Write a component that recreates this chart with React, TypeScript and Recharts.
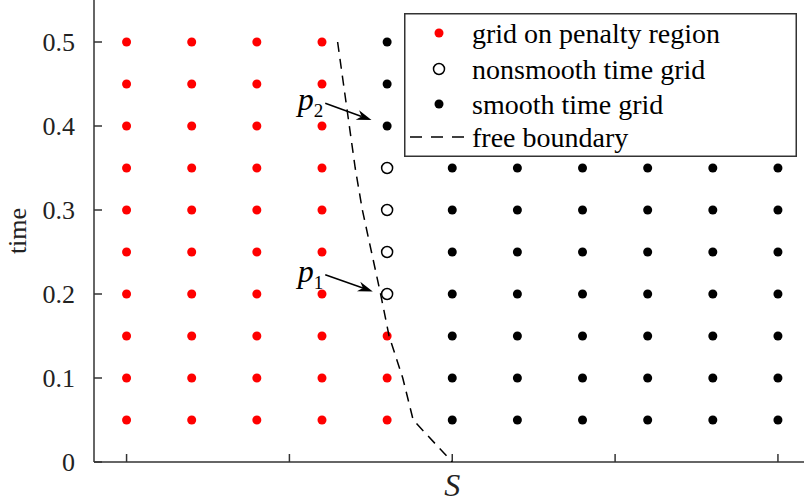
import { ScatterChart, Scatter, XAxis, YAxis, ReferenceLine, Legend } from "recharts";

// grid of the scheme: asset columns (index) x time rows
const gridTimes = [0.05, 0.1, 0.15, 0.2, 0.25, 0.3, 0.35, 0.4, 0.45, 0.5];
const penaltyCols = [0, 1, 2, 3];
const edgeCol = 4;
const edgePenaltyTimes = [0.05, 0.1, 0.15];
const edgeNonsmoothTimes = [0.2, 0.25, 0.3, 0.35];
const edgeSmoothTimes = [0.4, 0.45, 0.5];
const smoothCols = [5, 6, 7, 8, 9, 10];

// free boundary S_f(t)
const boundaryT = [0.5, 0.45, 0.4, 0.35, 0.3, 0.25, 0.2, 0.15, 0.1, 0.05, 0];
const boundaryS = [3.24, 3.33, 3.42, 3.51, 3.62, 3.76, 3.9, 4.03, 4.24, 4.4, 5.0];

const xTicks = [0, 2.5, 5, 7.5, 10];
const xTickLabels = ["", "", "S", "", ""];
const yTicks = [0, 0.1, 0.2, 0.3, 0.4, 0.5];
const yTickLabels = ["0", "0.1", "0.2", "0.3", "0.4", "0.5"];

const legendLabels = [
    "grid on penalty region",
    "nonsmooth time grid",
    "smooth time grid",
    "free boundary",
];

// p_1, p_2 annotations
const arrowSubs = ["2", "1"];
const arrowFromX = [3.05, 3.05];
const arrowFromT = [0.427, 0.223];
const arrowToX = [3.76, 3.78];
const arrowToT = [0.407, 0.203];

const FONT = "'Liberation Serif', 'Times New Roman', Times, serif";
const AXIS = "#333";

const penaltyData = [
    ...penaltyCols.flatMap((c) => gridTimes.map((t) => ({ x: c, t }))),
    ...edgePenaltyTimes.map((t) => ({ x: edgeCol, t })),
];
const nonsmoothData = edgeNonsmoothTimes.map((t) => ({ x: edgeCol, t }));
const smoothData = [
    ...edgeSmoothTimes.map((t) => ({ x: edgeCol, t })),
    ...smoothCols.flatMap((c) => gridTimes.map((t) => ({ x: c, t }))),
];
const boundaryData = boundaryT.map((t, i) => ({ x: boundaryS[i], t }));

const RedDot = (p: any) => <circle cx={p.cx} cy={p.cy} r={4.5} fill="#ff0000" />;
const BlackDot = (p: any) => <circle cx={p.cx} cy={p.cy} r={4.5} fill="#000" />;
const OpenDot = (p: any) => (
    <circle cx={p.cx} cy={p.cy} r={5.5} fill="#fff" stroke="#000" strokeWidth={1.5} />
);

function Arrow(p: any) {
    const { x1, y1, x2, y2, sub } = p;
    const a = Math.atan2(y2 - y1, x2 - x1);
    const len = 15;
    const hw = 5;
    const bx = x2 - len * Math.cos(a);
    const by = y2 - len * Math.sin(a);
    const nx = x2 - len * 0.7 * Math.cos(a);
    const ny = y2 - len * 0.7 * Math.sin(a);
    const px = -Math.sin(a) * hw;
    const py = Math.cos(a) * hw;
    return (
        <g>
            <line x1={x1} y1={y1} x2={nx} y2={ny} stroke="#000" strokeWidth={1.5} />
            <polygon
                points={`${x2},${y2} ${bx + px},${by + py} ${nx},${ny} ${bx - px},${by - py}`}
                fill="#000"
            />
            <text x={x1 - 2} y={y1 + 7} textAnchor="end" fontFamily={FONT} fill="#000">
                <tspan fontStyle="italic" fontSize={32}>p</tspan>
                <tspan fontSize={19} dy={7}>{sub}</tspan>
            </text>
        </g>
    );
}

function LegendBox() {
    const rows = [20, 56, 91, 124];
    return (
        <svg width={393} height={144} style={{ display: "block" }}>
            <rect x={0.75} y={0.75} width={391.5} height={142.5} fill="#fff" stroke={AXIS} strokeWidth={1.5} />
            <circle cx={35} cy={rows[0]} r={4.5} fill="#ff0000" />
            <circle cx={35} cy={rows[1]} r={5.5} fill="#fff" stroke="#000" strokeWidth={1.5} />
            <circle cx={35} cy={rows[2]} r={4.5} fill="#000" />
            <line x1={6} y1={rows[3]} x2={64} y2={rows[3]} stroke="#000" strokeWidth={1.5} strokeDasharray="12 9" />
            {legendLabels.map((l, i) => (
                <text key={l} x={68} y={rows[i] + 10} fontFamily={FONT} fontSize={28} fill="#000">
                    {l}
                </text>
            ))}
        </svg>
    );
}

export default function App() {
    return (
        <div style={{ position: "absolute", left: 0, top: 0, fontFamily: FONT }}>
            <ScatterChart
                width={804}
                height={502}
                margin={{ top: 0, right: 0, bottom: 0, left: 0 }}
                style={{ fontFamily: FONT }}
            >
                <XAxis
                    type="number"
                    dataKey="x"
                    domain={[-0.5, 10.4]}
                    ticks={xTicks}
                    interval={0}
                    allowDataOverflow
                    tickFormatter={(v) => xTickLabels[xTicks.indexOf(v)] ?? ""}
                    height={40}
                    tickSize={-8}
                    tickMargin={19}
                    axisLine={{ stroke: AXIS, strokeWidth: 1.5 }}
                    tickLine={{ stroke: AXIS, strokeWidth: 1.5 }}
                    tick={{ fill: "#222", fontSize: 32, fontStyle: "italic", fontFamily: FONT }}
                />
                <YAxis
                    type="number"
                    dataKey="t"
                    domain={[0, 0.55]}
                    ticks={yTicks}
                    interval={0}
                    allowDataOverflow
                    tickFormatter={(v) => yTickLabels[yTicks.indexOf(v)] ?? ""}
                    width={94}
                    tickSize={-8}
                    tickMargin={27}
                    axisLine={{ stroke: AXIS, strokeWidth: 1.5 }}
                    tickLine={{ stroke: AXIS, strokeWidth: 1.5 }}
                    tick={{ fill: "#222", fontSize: 26, fontFamily: FONT }}
                    label={{
                        content: (props: any) => {
                            const vb = props.viewBox;
                            const cx = vb.x + 20;
                            const cy = vb.y + vb.height / 2;
                            return (
                                <text
                                    x={cx}
                                    y={cy}
                                    transform={`rotate(-90 ${cx} ${cy})`}
                                    textAnchor="middle"
                                    dominantBaseline="middle"
                                    fontFamily={FONT}
                                    fontSize={26}
                                    fill="#222"
                                >
                                    time
                                </text>
                            );
                        },
                    }}
                />
                <Scatter data={penaltyData} shape={RedDot} isAnimationActive={false} />
                <Scatter data={nonsmoothData} shape={OpenDot} isAnimationActive={false} />
                <Scatter data={smoothData} shape={BlackDot} isAnimationActive={false} />
                <Scatter
                    data={boundaryData}
                    line={{ stroke: "#000", strokeWidth: 1.5, strokeDasharray: "10 7" }}
                    lineType="joint"
                    shape={() => <g />}
                    isAnimationActive={false}
                />
                {arrowSubs.map((s, i) => (
                    <ReferenceLine
                        key={s}
                        segment={[
                            { x: arrowFromX[i], y: arrowFromT[i] },
                            { x: arrowToX[i], y: arrowToT[i] },
                        ]}
                        shape={(p: any) => <Arrow {...p} sub={s} />}
                    />
                ))}
                <Legend
                    layout="vertical"
                    align="center"
                    verticalAlign="middle"
                    wrapperStyle={{ left: 404, top: 13, width: 393, height: 144 }}
                    content={() => <LegendBox />}
                />
            </ScatterChart>
        </div>
    );
}
